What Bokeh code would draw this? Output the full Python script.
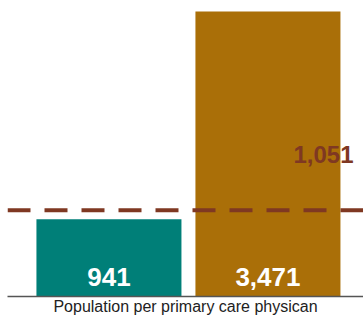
from bokeh.plotting import figure
from bokeh.models import Range1d, Span, Label, FixedTicker
from bokeh.embed import file_html
from bokeh.resources import INLINE

categories = ["A", "B"]
values = [941, 3471]
labels = ["941", "3,471"]
colors = ["#007F78", "#AA6F08"]
benchmark = 1051
benchmark_label = "1,051"
axis_title = "Population per primary care physican"

xs = [1, 2]

p = figure(width=363, height=320, output_backend="svg", toolbar_location=None,
           x_range=Range1d(0.362, 2.601), y_range=Range1d(0, 3605),
           min_border_left=7, min_border_right=0, min_border_top=0,
           min_border_bottom=24)
p.outline_line_color = None
p.grid.visible = False
p.yaxis.visible = False
p.background_fill_color = "white"
p.border_fill_color = "white"

p.vbar(x=xs, top=values, width=0.912, bottom=0, color=colors, line_color=None)

for x, v, t in zip(xs, values, labels):
    p.add_layout(Label(x=x, y=0, text=t, text_align="center", text_baseline="alphabetic",
                       y_offset=20, text_color="white", text_font="Liberation Sans",
                       text_font_style="bold", text_font_size="26px"))

p.add_layout(Span(location=benchmark, dimension="width", line_color="#7F3822",
                  line_width=4, line_dash="23 14"))
p.add_layout(Label(x=2.601, y=benchmark, text=benchmark_label, text_align="right",
                   text_baseline="alphabetic", x_offset=-10, y_offset=56,
                   text_color="#7F3822", text_font="Liberation Sans",
                   text_font_style="bold", text_font_size="24px"))

ax = p.xaxis[0]
ax.ticker = FixedTicker(ticks=[])
ax.axis_line_color = "#555555"
ax.axis_line_width = 1.5
ax.major_tick_line_color = None
ax.minor_tick_line_color = None
ax.major_label_text_font_size = "0px"
ax.axis_label = axis_title
ax.axis_label_text_font = "Liberation Sans"
ax.axis_label_text_font_style = "normal"
ax.axis_label_text_font_size = "16px"
ax.axis_label_text_color = "#222222"
ax.axis_label_standoff = 1

open("out.html", "w").write(file_html(p, INLINE))
